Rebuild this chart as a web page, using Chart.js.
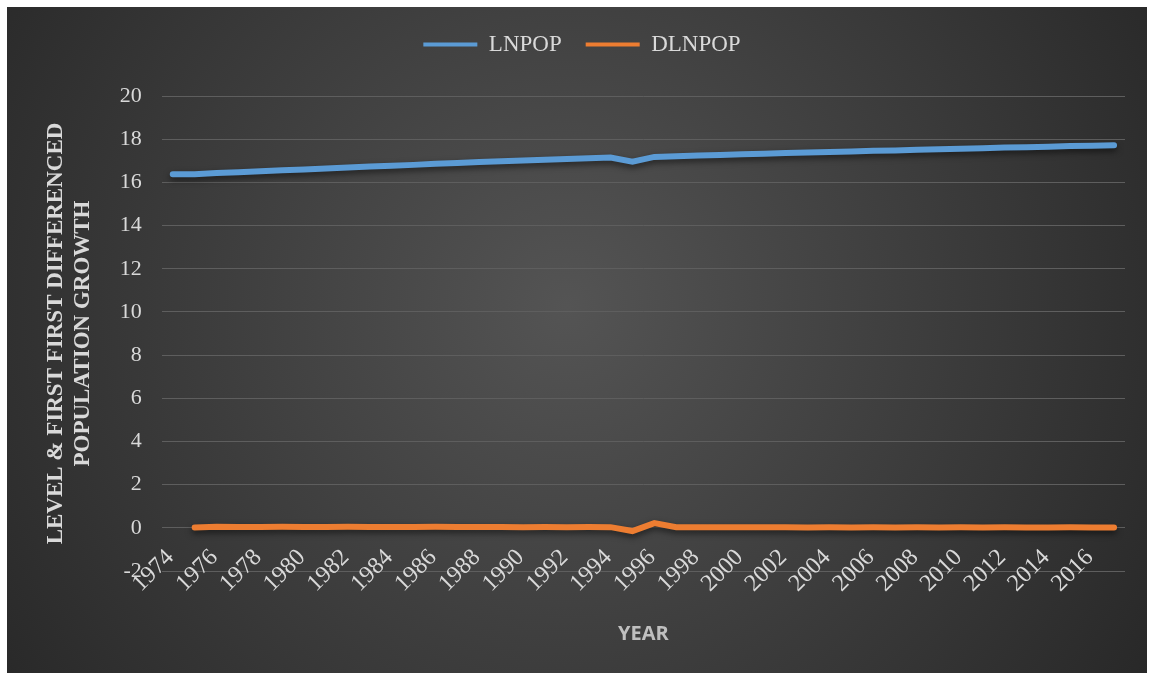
<!DOCTYPE html>
<html>
<head>
<meta charset="utf-8">
<script src="https://cdn.jsdelivr.net/npm/chart.js@4"></script>
<style>
  body { margin: 0; background: #fff; }
  #wrap { position: absolute; left: 7px; top: 7px; width: 1140px; height: 666px; }
</style>
</head>
<body>
<div id="wrap"><canvas id="chart"></canvas></div>
<script>
/** Data */
const years = ['1974', '1975', '1976', '1977', '1978', '1979', '1980', '1981', '1982', '1983',
  '1984', '1985', '1986', '1987', '1988', '1989', '1990', '1991', '1992', '1993',
  '1994', '1995', '1996', '1997', '1998', '1999', '2000', '2001', '2002', '2003',
  '2004', '2005', '2006', '2007', '2008', '2009', '2010', '2011', '2012', '2013',
  '2014', '2015', '2016', '2017'];

const lnpop = [16.38, 16.38, 16.43, 16.47, 16.51, 16.56, 16.60, 16.64, 16.69, 16.73,
  16.77, 16.81, 16.86, 16.90, 16.94, 16.98, 17.01, 17.05, 17.08, 17.12,
  17.15, 16.96, 17.18, 17.21, 17.24, 17.27, 17.30, 17.33, 17.36, 17.38,
  17.41, 17.43, 17.46, 17.48, 17.51, 17.53, 17.56, 17.58, 17.61, 17.63,
  17.65, 17.68, 17.70, 17.72];

const dlnpop = [null, 0.02, 0.05, 0.04, 0.04, 0.05, 0.04, 0.04, 0.05, 0.04,
  0.04, 0.04, 0.05, 0.04, 0.04, 0.04, 0.03, 0.04, 0.03, 0.04,
  0.03, -0.15, 0.22, 0.03, 0.03, 0.03, 0.03, 0.03, 0.03, 0.02,
  0.03, 0.02, 0.03, 0.02, 0.03, 0.02, 0.03, 0.02, 0.03, 0.02,
  0.02, 0.03, 0.02, 0.02];

const textColor = '#d9d9d9';
const serif = '"Liberation Serif", "Times New Roman", serif';

/** Plugins */
const darkBackground = {
  id: 'darkBackground',
  beforeDraw(chart) {
    const { ctx, width, height } = chart;
    const g = ctx.createRadialGradient(560, 300, 0, 560, 300, 720);
    g.addColorStop(0, '#545454');
    g.addColorStop(1, '#262626');
    ctx.save();
    ctx.fillStyle = g;
    ctx.fillRect(0, 0, width, height);
    ctx.restore();
  }
};

const lineShadow = {
  id: 'lineShadow',
  beforeDatasetDraw(chart) {
    const ctx = chart.ctx;
    ctx.save();
    ctx.shadowColor = 'rgba(0, 0, 0, 0.55)';
    ctx.shadowBlur = 6;
    ctx.shadowOffsetY = 3;
  },
  afterDatasetDraw(chart) {
    chart.ctx.restore();
  }
};

// extra room under the legend
const legendGap = {
  id: 'legendGap',
  beforeInit(chart) {
    const fit = chart.legend.fit;
    chart.legend.fit = function () {
      fit.bind(chart.legend)();
      this.height += 30;
    };
  }
};

new Chart(document.getElementById('chart'), {
  type: 'line',
  data: {
    labels: years,
    datasets: [{
      label: 'LNPOP',
      data: lnpop,
      borderColor: '#5B9BD5',
      backgroundColor: '#5B9BD5',
      borderWidth: 6,
      borderCapStyle: 'round',
      pointRadius: 0,
      tension: 0
    }, {
      label: 'DLNPOP',
      data: dlnpop,
      borderColor: '#ED7D31',
      backgroundColor: '#ED7D31',
      borderWidth: 6,
      borderCapStyle: 'round',
      pointRadius: 0,
      tension: 0
    }]
  },
  options: {
    responsive: true,
    maintainAspectRatio: false,
    animation: false,
    layout: {
      padding: { top: 2, left: 32, right: 22, bottom: 23 }
    },
    plugins: {
      legend: {
        display: true,
        position: 'top',
        labels: {
          color: textColor,
          font: { family: serif, size: 23 },
          boxWidth: 54,
          boxHeight: 4,
          padding: 24,
          generateLabels: (chart) => Chart.defaults.plugins.legend.labels.generateLabels(chart)
            .map(item => Object.assign(item, { lineWidth: 0 }))
        }
      },
      tooltip: { enabled: false }
    },
    scales: {
      x: {
        offset: true,
        grid: { display: false },
        border: { display: false },
        ticks: {
          color: textColor,
          font: { family: serif, size: 24 },
          autoSkip: false,
          minRotation: 45,
          maxRotation: 45,
          mirror: true,   // keeps labels unclipped, sitting close to the -2 line
          padding: 7,
          labelOffset: 18,
          callback: function (value, index) {
            return index % 2 === 0 ? this.getLabelForValue(value) : '';
          }
        },
        title: {
          display: true,
          text: 'YEAR',
          color: '#bfbfbf',
          font: { family: '"Open Sans", sans-serif', size: 20, weight: 'bold' },
          padding: { top: 29 }
        }
      },
      y: {
        min: -2,
        max: 20,
        grid: { color: '#5e5e5e', drawTicks: false },
        border: { display: false },
        ticks: {
          stepSize: 2,
          color: textColor,
          font: { family: serif, size: 22 },
          padding: 20
        },
        title: {
          display: true,
          text: ['LEVEL & FIRST FIRST DIFFERENCED', 'POPULATION GROWTH'],
          color: textColor,
          font: { family: serif, size: 23, weight: 'bold', lineHeight: 1.17 },
          padding: { bottom: 3 }
        }
      }
    }
  },
  plugins: [darkBackground, lineShadow, legendGap]
});
</script>
</body>
</html>
